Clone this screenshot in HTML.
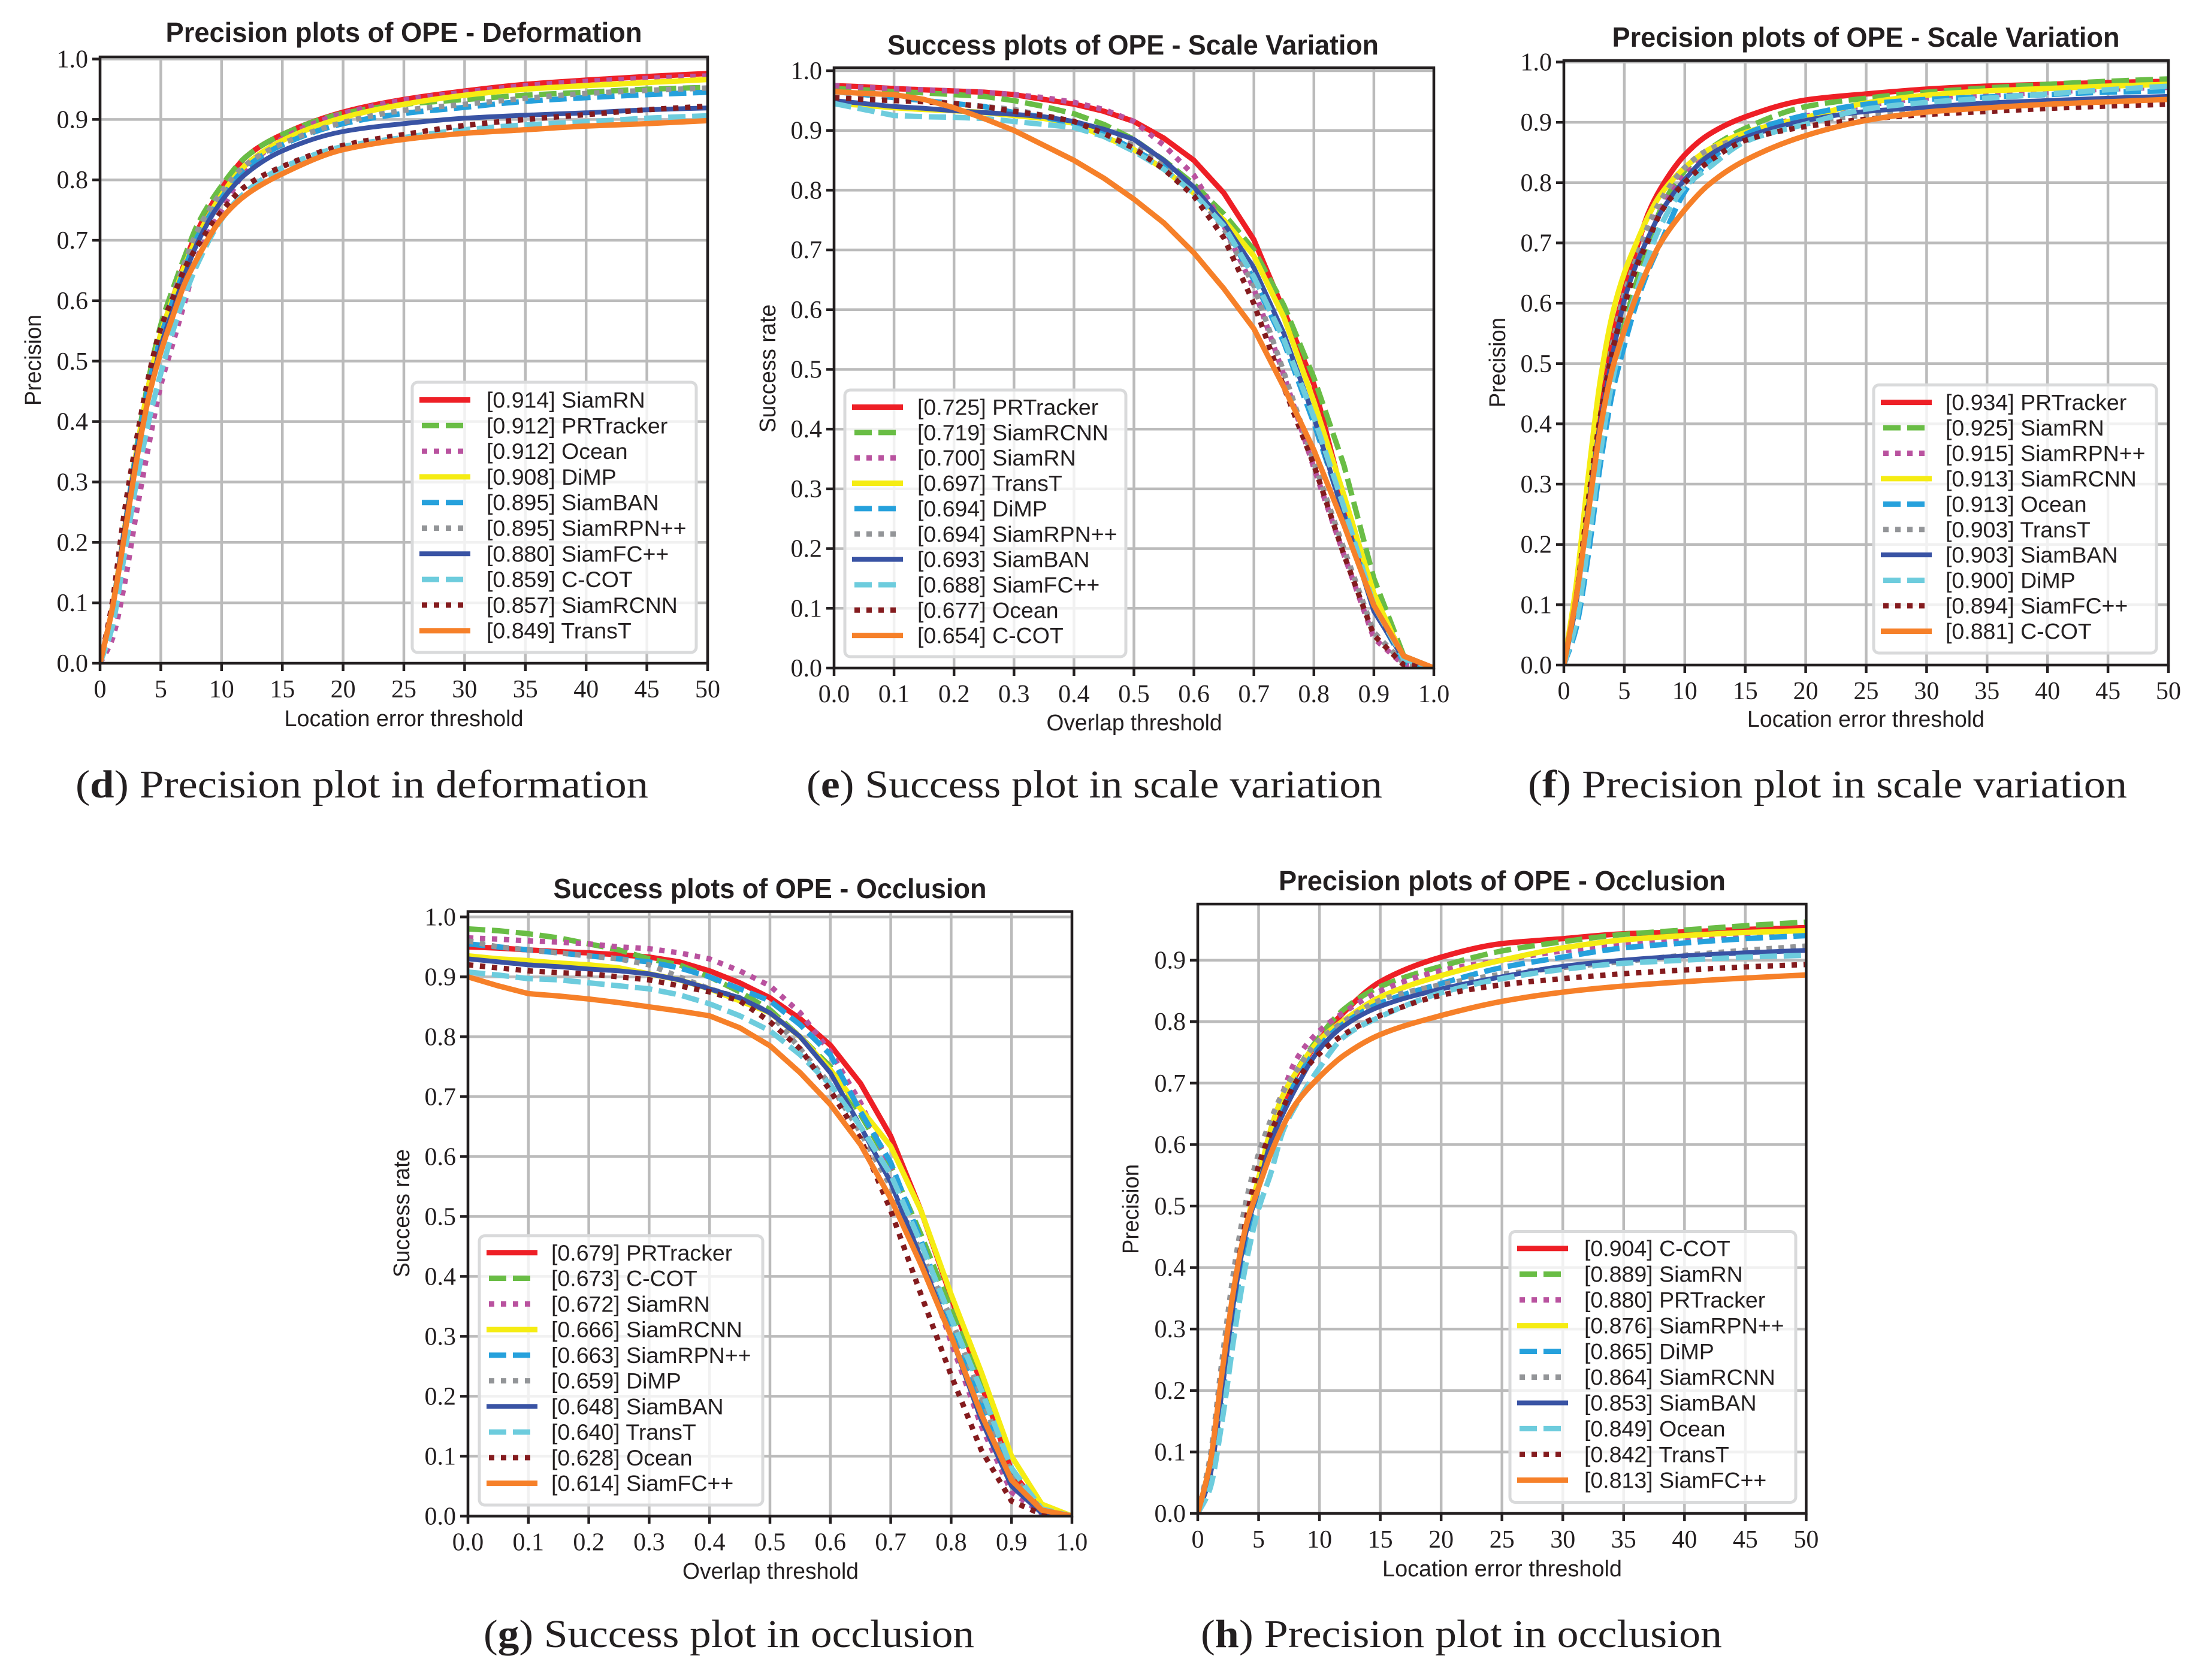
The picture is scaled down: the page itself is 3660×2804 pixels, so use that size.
<!DOCTYPE html>
<html lang="en">
<head>
<meta charset="utf-8">
<title>Precision and success plots of OPE</title>
<style>
html,body{margin:0;padding:0;background:#fff;}
svg{display:block;}
.title{font-family:"Liberation Sans",sans-serif;font-weight:bold;font-size:46px;fill:#231f20;text-anchor:middle;}
.axis{font-family:"Liberation Sans",sans-serif;font-size:38px;fill:#231f20;text-anchor:middle;}
.cap{font-family:"Liberation Serif",serif;font-size:66px;fill:#231f20;}
.tick{font-family:"Liberation Serif",serif;font-size:42px;fill:#231f20;}
.leg{font-family:"Liberation Sans",sans-serif;font-size:37.5px;fill:#231f20;}
</style>
</head>
<body>
<svg id="figure" xmlns="http://www.w3.org/2000/svg" width="3660" height="2804" viewBox="0 0 3660 2804">
<rect x="0" y="0" width="3660" height="2804" fill="#fff"/>

<g id="chart-d">
<text class="title" x="674" y="70" textLength="795" lengthAdjust="spacingAndGlyphs">Precision plots of OPE - Deformation</text>
<text class="axis" x="674" y="1212" textLength="399" lengthAdjust="spacingAndGlyphs">Location error threshold</text>
<text class="axis" transform="translate(68,601) rotate(-90)" textLength="152" lengthAdjust="spacingAndGlyphs">Precision</text>
<text class="cap" x="126" y="1331" textLength="956" lengthAdjust="spacingAndGlyphs">(<tspan font-weight="bold">d</tspan>) Precision plot in deformation</text>
</g>

<g id="chart-e">
<text class="title" x="1891" y="91" textLength="820" lengthAdjust="spacingAndGlyphs">Success plots of OPE - Scale Variation</text>
<text class="axis" x="1893" y="1219" textLength="293" lengthAdjust="spacingAndGlyphs">Overlap threshold</text>
<text class="axis" transform="translate(1294,615) rotate(-90)" textLength="214" lengthAdjust="spacingAndGlyphs">Success rate</text>
<text class="cap" x="1346" y="1331" textLength="961" lengthAdjust="spacingAndGlyphs">(<tspan font-weight="bold">e</tspan>) Success plot in scale variation</text>
</g>

<g id="chart-f">
<text class="title" x="3114" y="78" textLength="847" lengthAdjust="spacingAndGlyphs">Precision plots of OPE - Scale Variation</text>
<text class="axis" x="3114" y="1213" textLength="396" lengthAdjust="spacingAndGlyphs">Location error threshold</text>
<text class="axis" transform="translate(2512,605) rotate(-90)" textLength="150" lengthAdjust="spacingAndGlyphs">Precision</text>
<text class="cap" x="2550" y="1331" textLength="1000" lengthAdjust="spacingAndGlyphs">(<tspan font-weight="bold">f</tspan>) Precision plot in scale variation</text>
</g>

<g id="chart-g">
<text class="title" x="1285" y="1499" textLength="723" lengthAdjust="spacingAndGlyphs">Success plots of OPE - Occlusion</text>
<text class="axis" x="1286" y="2635" textLength="294" lengthAdjust="spacingAndGlyphs">Overlap threshold</text>
<text class="axis" transform="translate(683,2025) rotate(-90)" textLength="214" lengthAdjust="spacingAndGlyphs">Success rate</text>
<text class="cap" x="807" y="2749" textLength="819" lengthAdjust="spacingAndGlyphs">(<tspan font-weight="bold">g</tspan>) Success plot in occlusion</text>
</g>

<g id="chart-h">
<text class="title" x="2507" y="1486" textLength="746" lengthAdjust="spacingAndGlyphs">Precision plots of OPE - Occlusion</text>
<text class="axis" x="2507" y="2631" textLength="400" lengthAdjust="spacingAndGlyphs">Location error threshold</text>
<text class="axis" transform="translate(1900,2018) rotate(-90)" textLength="150" lengthAdjust="spacingAndGlyphs">Precision</text>
<text class="cap" x="2004" y="2749" textLength="870" lengthAdjust="spacingAndGlyphs">(<tspan font-weight="bold">h</tspan>) Precision plot in occlusion</text>
</g>
</svg>

<script>
// Shared threshold categories
const precisionThresholds = [0,1,2,3,4,5,6,7,8,10,12,15,20,25,30,35,40,45,50];
const successThresholds = [0,0.05,0.1,0.15,0.2,0.25,0.3,0.35,0.4,0.45,0.5,0.55,0.6,0.65,0.7,0.75,0.8,0.85,0.9,0.95,1];
const precisionXTicks = ['0','5','10','15','20','25','30','35','40','45','50'];
const successXTicks = ['0.0','0.1','0.2','0.3','0.4','0.5','0.6','0.7','0.8','0.9','1.0'];
const fullYTicks = ['0.0','0.1','0.2','0.3','0.4','0.5','0.6','0.7','0.8','0.9','1.0'];
const shortYTicks = ['0.0','0.1','0.2','0.3','0.4','0.5','0.6','0.7','0.8','0.9'];

// (d) Precision, deformation
const deformationNames = ['SiamRN','PRTracker','Ocean','DiMP','SiamBAN','SiamRPN++','SiamFC++','C-COT','SiamRCNN','TransT'];
const deformationScores = ['0.914','0.912','0.912','0.908','0.895','0.895','0.880','0.859','0.857','0.849'];
const deformationValues = [
[0,.09,.22,.35,.46,.545,.605,.665,.715,.785,.838,.875,.912,.933,.947,.958,.965,.971,.976],
[0,.09,.22,.355,.47,.56,.62,.675,.725,.79,.838,.875,.91,.925,.933,.94,.945,.95,.953],
[0,.04,.13,.25,.36,.46,.53,.60,.67,.75,.815,.868,.91,.932,.945,.956,.963,.968,.972],
[0,.09,.22,.35,.46,.545,.605,.66,.705,.775,.825,.865,.903,.925,.94,.95,.956,.961,.966],
[0,.09,.22,.35,.46,.54,.6,.655,.705,.77,.82,.858,.893,.91,.92,.93,.936,.941,.945],
[0,.09,.23,.355,.465,.55,.61,.665,.715,.78,.825,.86,.895,.915,.925,.935,.943,.948,.952],
[0,.09,.22,.345,.44,.525,.585,.645,.695,.765,.81,.848,.88,.893,.902,.907,.911,.916,.919],
[0,.06,.18,.30,.40,.48,.55,.61,.66,.735,.78,.82,.855,.87,.883,.891,.896,.902,.906],
[0,.1,.25,.37,.475,.555,.605,.655,.69,.748,.79,.822,.857,.875,.89,.90,.908,.916,.922],
[0,.09,.21,.335,.44,.515,.575,.63,.67,.736,.775,.81,.85,.867,.877,.883,.889,.893,.898]
];

// (e) Success, scale variation
const scaleSuccessNames = ['PRTracker','SiamRCNN','SiamRN','TransT','DiMP','SiamRPN++','SiamBAN','SiamFC++','Ocean','C-COT'];
const scaleSuccessScores = ['0.725','0.719','0.700','0.697','0.694','0.694','0.693','0.688','0.677','0.654'];
const scaleSuccessValues = [
[.975,.973,.970,.968,.966,.964,.96,.952,.944,.932,.915,.887,.85,.795,.717,.598,.475,.28,.115,.02,0],
[.97,.968,.965,.963,.96,.957,.95,.94,.928,.91,.885,.85,.81,.76,.70,.607,.486,.34,.15,.02,0],
[.975,.972,.97,.968,.966,.964,.96,.955,.947,.935,.915,.875,.825,.74,.635,.49,.335,.19,.05,.005,0],
[.945,.942,.938,.935,.933,.93,.925,.92,.912,.89,.868,.835,.795,.75,.69,.587,.446,.29,.125,.015,0],
[.965,.96,.955,.95,.945,.94,.93,.922,.912,.895,.868,.84,.795,.74,.65,.545,.41,.26,.10,.01,0],
[.965,.96,.955,.95,.945,.94,.935,.925,.915,.895,.875,.84,.80,.735,.64,.495,.345,.20,.06,.008,0],
[.95,.945,.94,.937,.933,.93,.927,.923,.915,.902,.885,.85,.805,.745,.67,.56,.42,.255,.095,.015,0],
[.945,.935,.925,.923,.922,.92,.915,.91,.905,.89,.865,.835,.795,.74,.655,.55,.42,.27,.105,.015,0],
[.955,.952,.95,.948,.945,.94,.932,.925,.915,.895,.87,.835,.79,.72,.61,.47,.34,.19,.055,.005,0],
[.965,.962,.96,.952,.938,.92,.9,.875,.85,.82,.785,.745,.695,.635,.568,.47,.365,.24,.105,.02,0]
];

// (f) Precision, scale variation
const scalePrecisionNames = ['PRTracker','SiamRN','SiamRPN++','SiamRCNN','Ocean','TransT','SiamBAN','DiMP','SiamFC++','C-COT'];
const scalePrecisionScores = ['0.934','0.925','0.915','0.913','0.913','0.903','0.903','0.900','0.894','0.881'];
const scalePrecisionValues = [
[0,.11,.27,.42,.54,.62,.69,.75,.79,.846,.88,.909,.937,.947,.955,.96,.963,.966,.968],
[0,.08,.22,.37,.49,.565,.635,.70,.755,.82,.855,.89,.926,.94,.95,.957,.963,.968,.972],
[0,.1,.26,.41,.53,.61,.67,.72,.76,.815,.85,.88,.91,.928,.94,.945,.95,.955,.958],
[0,.13,.31,.47,.58,.65,.70,.745,.78,.825,.855,.883,.908,.932,.945,.952,.956,.96,.963],
[0,.06,.18,.33,.45,.53,.60,.655,.70,.785,.835,.88,.912,.93,.938,.942,.946,.95,.952],
[0,.1,.26,.41,.53,.615,.675,.73,.77,.825,.855,.875,.90,.912,.92,.925,.93,.935,.938],
[0,.1,.26,.40,.51,.605,.665,.71,.75,.805,.845,.875,.903,.918,.925,.932,.936,.94,.943],
[0,.07,.2,.35,.47,.555,.62,.68,.728,.793,.825,.868,.897,.922,.933,.94,.947,.954,.96],
[0,.11,.27,.41,.52,.595,.66,.705,.75,.80,.835,.87,.893,.905,.913,.918,.923,.927,.93],
[0,.11,.25,.39,.49,.555,.612,.66,.70,.755,.797,.837,.878,.903,.917,.924,.93,.934,.938]
];

// (g) Success, occlusion
const occlusionSuccessNames = ['PRTracker','C-COT','SiamRN','SiamRCNN','SiamRPN++','DiMP','SiamBAN','TransT','Ocean','SiamFC++'];
const occlusionSuccessScores = ['0.679','0.673','0.672','0.666','0.663','0.659','0.648','0.640','0.628','0.614'];
const occlusionSuccessValues = [
[.95,.948,.945,.942,.94,.937,.933,.925,.91,.89,.865,.83,.786,.722,.634,.51,.365,.22,.075,.01,0],
[.98,.977,.972,.965,.955,.945,.93,.92,.90,.875,.845,.80,.75,.67,.585,.47,.345,.215,.08,.01,0],
[.965,.963,.96,.958,.955,.95,.947,.94,.93,.91,.885,.84,.775,.69,.58,.44,.29,.15,.04,.005,0],
[.935,.93,.927,.923,.92,.915,.905,.895,.88,.86,.84,.80,.745,.68,.617,.51,.37,.24,.10,.02,0],
[.955,.95,.945,.94,.935,.93,.925,.915,.90,.88,.86,.82,.77,.675,.59,.46,.32,.19,.06,.008,0],
[.96,.95,.945,.94,.935,.93,.92,.90,.88,.865,.84,.78,.72,.64,.55,.44,.33,.20,.07,.01,0],
[.93,.925,.92,.917,.913,.91,.905,.895,.88,.865,.84,.80,.74,.65,.557,.43,.30,.16,.05,.005,0],
[.908,.903,.897,.895,.89,.885,.88,.87,.855,.835,.81,.77,.72,.65,.57,.455,.33,.21,.08,.012,0],
[.92,.915,.91,.907,.905,.90,.895,.885,.875,.86,.825,.78,.71,.63,.51,.37,.235,.11,.025,.003,0],
[.90,.885,.872,.868,.863,.857,.85,.843,.835,.815,.785,.74,.687,.62,.53,.42,.30,.17,.06,.01,0]
];

// (h) Precision, occlusion
const occlusionPrecisionNames = ['C-COT','SiamRN','PRTracker','SiamRPN++','DiMP','SiamRCNN','SiamBAN','Ocean','TransT','SiamFC++'];
const occlusionPrecisionScores = ['0.904','0.889','0.880','0.876','0.865','0.864','0.853','0.849','0.842','0.813'];
const occlusionPrecisionValues = [
[0,.08,.22,.36,.47,.54,.61,.665,.71,.77,.815,.865,.905,.927,.935,.943,.946,.95,.953],
[0,.06,.19,.33,.45,.54,.61,.67,.715,.775,.82,.857,.89,.915,.93,.942,.949,.956,.962],
[0,.08,.23,.38,.49,.565,.63,.685,.735,.785,.815,.85,.883,.90,.915,.925,.932,.94,.945],
[0,.08,.22,.37,.47,.545,.625,.68,.715,.77,.802,.84,.875,.90,.92,.933,.94,.945,.948],
[0,.07,.19,.33,.45,.53,.60,.655,.70,.76,.797,.83,.862,.888,.905,.92,.928,.935,.94],
[0,.09,.25,.40,.51,.585,.64,.685,.717,.77,.80,.835,.86,.877,.888,.898,.908,.916,.923],
[0,.06,.2,.35,.46,.53,.605,.65,.69,.755,.793,.825,.853,.873,.89,.90,.907,.912,.916],
[0,.04,.15,.29,.41,.495,.553,.622,.662,.725,.775,.808,.847,.87,.885,.895,.90,.905,.908],
[0,.08,.23,.37,.48,.565,.62,.66,.70,.748,.779,.81,.843,.86,.87,.878,.884,.889,.893],
[0,.08,.23,.37,.47,.53,.585,.63,.665,.71,.745,.779,.81,.833,.848,.858,.865,.871,.876]
];

const seriesColors = ['#ee1f26','#69bd45','#b9529f','#f5ec13','#26a1dc','#939598','#3953a4','#6dccdd','#841b1e','#f68029'];
const seriesDashes = ['none','29 11','9 11','none','29 11','9 11','none','29 11','9 11','none'];
const seriesWidths = [9,9,9,9,9,9,8,9,9,9];

const SVGNS = 'http://www.w3.org/2000/svg';
function mk(tag, attrs, parent) {
  const e = document.createElementNS(SVGNS, tag);
  for (const k in attrs) e.setAttribute(k, attrs[k]);
  parent.appendChild(e);
  return e;
}

// Path through the mapped points. Precision curves use a monotone cubic so the
// sparse readings render as the smooth curves of the reference.
function buildPath(px, py, smooth) {
  const n = px.length;
  let d = 'M' + px[0].toFixed(1) + ' ' + py[0].toFixed(1);
  if (!smooth) {
    for (let i = 1; i < n; i++) d += 'L' + px[i].toFixed(1) + ' ' + py[i].toFixed(1);
    return d;
  }
  const sl = [];
  for (let i = 0; i < n - 1; i++) sl.push((py[i + 1] - py[i]) / (px[i + 1] - px[i]));
  const m = [sl[0]];
  for (let i = 1; i < n - 1; i++) {
    if (sl[i - 1] * sl[i] <= 0) { m.push(0); continue; }
    const h0 = px[i] - px[i - 1], h1 = px[i + 1] - px[i];
    const w1 = 2 * h1 + h0, w2 = h1 + 2 * h0;
    m.push((w1 + w2) / (w1 / sl[i - 1] + w2 / sl[i]));
  }
  m.push(sl[n - 2]);
  for (let i = 0; i < n - 1; i++) {
    const h = (px[i + 1] - px[i]) / 3;
    d += 'C' + (px[i] + h).toFixed(1) + ' ' + (py[i] + m[i] * h).toFixed(1) + ' ' +
         (px[i + 1] - h).toFixed(1) + ' ' + (py[i + 1] - m[i + 1] * h).toFixed(1) + ' ' +
         px[i + 1].toFixed(1) + ' ' + py[i + 1].toFixed(1);
  }
  return d;
}

function drawChart(c) {
  const root = document.getElementById(c.id);
  const xScale = v => c.left + v / c.xMax * (c.right - c.left);
  const yScale = v => c.bottom - v * c.unit;
  const ink = '#231f20';

  const clip = mk('clipPath', {id: c.id + '-clip'}, root);
  mk('rect', {x: c.left, y: c.top, width: c.right - c.left, height: c.bottom - c.top}, clip);

  c.xTicks.forEach(t => {
    const v = parseFloat(t);
    const px = xScale(v);
    const grid = mk('line', {x1: px, x2: px, y1: c.top, y2: c.bottom, stroke: '#bbbbbb', 'stroke-width': 4.5}, root);
    
    
  });
  c.yTicks.forEach(t => {
    const v = parseFloat(t);
    const py = yScale(v);
    const grid = mk('line', {x1: c.left, x2: c.right, y1: py, y2: py, stroke: '#bbbbbb', 'stroke-width': 4.5}, root);
    
    
  });

  const seriesGroup = mk('g', {'clip-path': 'url(#' + c.id + '-clip)'}, root);
  
  
  c.values.forEach((vals, i) => {
    const px = vals.map((v, j) => xScale(c.xs[j]));
    const py = vals.map(v => yScale(v));
    const line = mk('path', {d: buildPath(px, py, c.smooth), fill: 'none', stroke: seriesColors[i], 'stroke-width': seriesWidths[i], 'stroke-dasharray': seriesDashes[i], 'stroke-linejoin': 'round'}, seriesGroup);
    
    
  });

  const frame = mk('rect', {x: c.left, y: c.top, width: c.right - c.left, height: c.bottom - c.top, fill: 'none', stroke: ink, 'stroke-width': 4.5}, root);
  
  

  c.xTicks.forEach(t => {
    const v = parseFloat(t);
    const px = xScale(v);
    const mark = mk('line', {x1: px, x2: px, y1: c.bottom, y2: c.bottom + 13, stroke: ink, 'stroke-width': 4.5}, root);
    
    
    const label = mk('text', {x: px, y: c.bottom + 57, class: 'tick', 'text-anchor': 'middle'}, root);
    label.textContent = t;
    
    
  });
  c.yTicks.forEach(t => {
    const v = parseFloat(t);
    const py = yScale(v);
    const mark = mk('line', {x1: c.left - 13, x2: c.left, y1: py, y2: py, stroke: ink, 'stroke-width': 4.5}, root);
    
    
    const label = mk('text', {x: c.left - 20, y: py + 14, class: 'tick', 'text-anchor': 'end'}, root);
    label.textContent = t;
    
    
  });

  const legend = mk('g', {}, root);
  
  
  const box = mk('rect', {x: c.legX, y: c.legTop, width: c.legW, height: c.legH, rx: 9, ry: 9, fill: '#fff', 'fill-opacity': 0.8, stroke: '#d9dadb', 'stroke-width': 5}, legend);
  
  
  c.names.forEach((name, i) => {
    const rowY = c.legFirst + i * c.legStep;
    const solid = seriesDashes[i] === 'none';
    const hx = c.legX + 12;
    const handle = mk('line', {x1: solid ? hx : hx + 4, x2: solid ? hx + 85 : hx + 74, y1: rowY, y2: rowY, stroke: seriesColors[i], 'stroke-width': seriesWidths[i], 'stroke-dasharray': seriesDashes[i]}, legend);
    
    
    const label = mk('text', {x: c.legX + c.legText, y: rowY + 13, class: 'leg'}, legend);
    label.textContent = '[' + c.scores[i] + '] ' + name;
    
    
  });
}

drawChart({id:'chart-d', smooth:true, left:167, right:1181, top:95, bottom:1107, unit:1008.5, xMax:50, xs:precisionThresholds, xTicks:precisionXTicks, yTicks:fullYTicks, names:deformationNames, scores:deformationScores, values:deformationValues, legX:688, legTop:638, legW:474, legH:451, legFirst:667.5, legStep:42.8, legText:124});
drawChart({id:'chart-e', smooth:false, left:1392, right:2393, top:113, bottom:1115, unit:997, xMax:1, xs:successThresholds, xTicks:successXTicks, yTicks:fullYTicks, names:scaleSuccessNames, scores:scaleSuccessScores, values:scaleSuccessValues, legX:1410, legTop:651, legW:469, legH:445, legFirst:679.5, legStep:42.35, legText:121});
drawChart({id:'chart-f', smooth:true, left:2610, right:3619, top:101, bottom:1110, unit:1006.5, xMax:50, xs:precisionThresholds, xTicks:precisionXTicks, yTicks:fullYTicks, names:scalePrecisionNames, scores:scalePrecisionScores, values:scalePrecisionValues, legX:3127, legTop:642.5, legW:472, legH:447.5, legFirst:671.6, legStep:42.43, legText:120});
drawChart({id:'chart-g', smooth:false, left:781, right:1789, top:1521.5, bottom:2530.4, unit:1000, xMax:1, xs:successThresholds, xTicks:successXTicks, yTicks:fullYTicks, names:occlusionSuccessNames, scores:occlusionSuccessScores, values:occlusionSuccessValues, legX:800, legTop:2062.6, legW:473, legH:449.4, legFirst:2090.8, legStep:42.76, legText:120});
drawChart({id:'chart-h', smooth:true, left:1999, right:3014.4, top:1509, bottom:2526, unit:1026, xMax:50, xs:precisionThresholds, xTicks:precisionXTicks, yTicks:shortYTicks, names:occlusionPrecisionNames, scores:occlusionPrecisionScores, values:occlusionPrecisionValues, legX:2520, legTop:2055.5, legW:477, legH:452, legFirst:2083.7, legStep:42.96, legText:124});
</script>
</body>
</html>
